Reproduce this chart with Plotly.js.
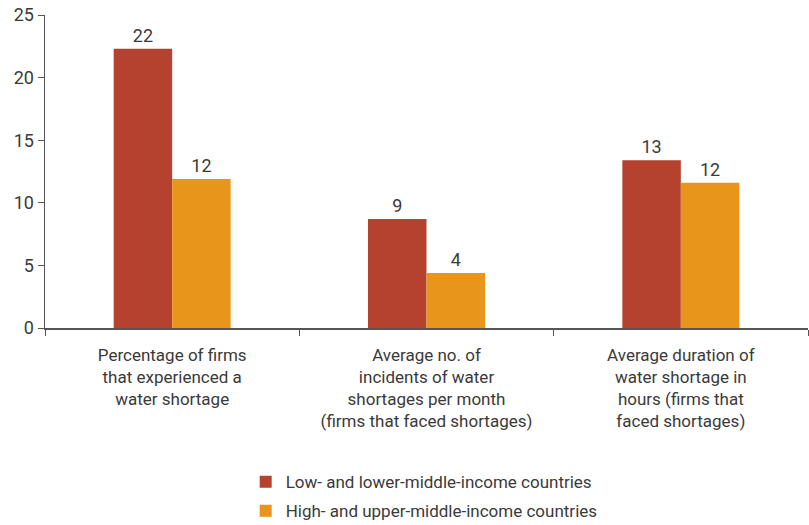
<!DOCTYPE html>
<html>
<head>
<meta charset="utf-8">
<script src="https://cdn.plot.ly/plotly-3.0.1.min.js"></script>
<style>
  html, body { margin: 0; padding: 0; background: #fff; }
  #graph { width: 809px; height: 525px; }
</style>
</head>
<body>
<div id="graph"></div>
<script>
// categories on the x axis
var categories = [
    "Percentage of firms<br>that experienced a<br>water shortage",
    "Average no. of<br>incidents of water<br>shortages per month<br>(firms that faced shortages)",
    "Average duration of<br>water shortage in<br>hours (firms that<br>faced shortages)"
];

// series values
var lowIncome = [22.3, 8.7, 13.4];
var highIncome = [11.9, 4.4, 11.6];

var seriesNames = [
    "Low- and lower-middle-income countries",
    "High- and upper-middle-income countries"
];

var yTicks = [0, 5, 10, 15, 20, 25];

var FONT = "Roboto, 'Liberation Sans', sans-serif";
var TXT = "#3a3a3a";

function drawGraph() {
    var low, high, data, layout;

    low = {
        x: categories,
        y: lowIncome,
        type: "bar",
        name: seriesNames[0],
        legendgroup: "a",
        marker: { color: "#b4422e" },
        texttemplate: "%{y:.0f}",
        textposition: "outside",
        textfont: { family: FONT, size: 18, color: TXT },
        cliponaxis: false,
        hoverinfo: "none"
    };

    high = {
        x: categories,
        y: highIncome,
        type: "bar",
        name: seriesNames[1],
        legendgroup: "b",
        marker: { color: "#e8951b" },
        texttemplate: "%{y:.0f}",
        textposition: "outside",
        textfont: { family: FONT, size: 18, color: TXT },
        cliponaxis: false,
        hoverinfo: "none"
    };

    data = [low, high];

    layout = {
        width: 809,
        height: 525,
        margin: { l: 45, r: 1, t: 15, b: 197, autoexpand: false },
        paper_bgcolor: "#fff",
        plot_bgcolor: "#fff",
        font: { family: FONT, size: 17, color: TXT },
        barmode: "group",
        bargap: 0.54,
        bargroupgap: 0,
        showlegend: true,
        legend: {
            orientation: "v",
            x: 0.263,
            xanchor: "left",
            y: -0.435,
            yanchor: "top",
            traceorder: "grouped",
            tracegroupgap: 4,
            font: { family: FONT, size: 17, color: TXT }
        },
        xaxis: {
            type: "category",
            showgrid: false,
            showline: true,
            linecolor: "#555",
            linewidth: 1.5,
            ticks: "outside",
            tickson: "boundaries",
            ticklen: 6,
            tickcolor: "#555",
            ticklabelstandoff: 11,
            tickfont: { family: FONT, size: 17, color: TXT }
        },
        yaxis: {
            range: [0, 25],
            tickvals: yTicks,
            showgrid: false,
            zeroline: false,
            showline: true,
            linecolor: "#555",
            linewidth: 1.5,
            ticks: "outside",
            ticklen: 6,
            tickcolor: "#555",
            tickfont: { family: FONT, size: 18, color: TXT }
        }
    };

    Plotly.newPlot("graph", data, layout, { staticPlot: true });
}

drawGraph();
</script>
</body>
</html>
